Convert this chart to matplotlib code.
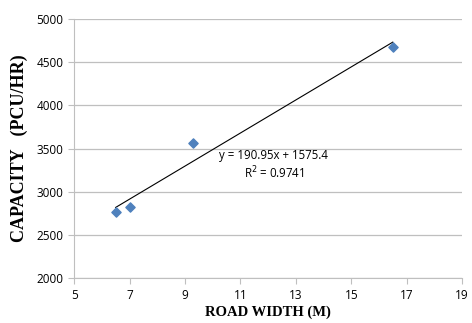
import numpy as np
import matplotlib.pyplot as plt

road_width = [6.5, 7.0, 9.3, 16.5]
capacity = [2760, 2820, 3560, 4680]
x_ticks = [5, 7, 9, 11, 13, 15, 17, 19]
y_ticks = [2000, 2500, 3000, 3500, 4000, 4500, 5000]

fig = plt.figure(figsize=(4.72, 3.23), dpi=100)
ax = fig.add_axes([0.157, 0.139, 0.822, 0.802])

# trendline
m, c = np.polyfit(road_width, capacity, 1)
xl = np.array([min(road_width), max(road_width)])
ax.plot(xl, m * xl + c, color='black', lw=0.8, zorder=2)

ax.scatter(road_width, capacity, marker='D', s=22, color='#4F81BD', zorder=3)

ax.set_xlim(5, 19)
ax.set_ylim(2000, 5000)
ax.set_xticks(x_ticks)
ax.set_yticks(y_ticks)
ax.yaxis.grid(True, color='#BFBFBF', lw=0.9)
ax.set_axisbelow(True)

for s in ['top', 'right']:
    ax.spines[s].set_visible(False)
for s in ['left', 'bottom']:
    ax.spines[s].set_color('#BFBFBF')
ax.tick_params(colors='#BFBFBF', length=4, labelcolor='black', labelsize=8.5)
for lab in ax.get_xticklabels() + ax.get_yticklabels():
    lab.set_family('Open Sans')

ax.text(0.374, 0.475, 'y = 190.95x + 1575.4', transform=ax.transAxes,
        fontsize=8.3, family='Open Sans', va='center')
ax.text(0.438, 0.405, 'R$^2$ = 0.9741', transform=ax.transAxes,
        fontsize=8.3, family='Open Sans', va='center')

ax.set_xlabel('ROAD WIDTH (M)', family='Liberation Serif', fontweight='bold',
              fontsize=10.5, labelpad=3)
ax.set_ylabel('CAPACITY   (PCU/HR)', family='Liberation Serif', fontweight='bold',
              fontsize=13, labelpad=6)

fig.savefig('out.png', dpi=100)
